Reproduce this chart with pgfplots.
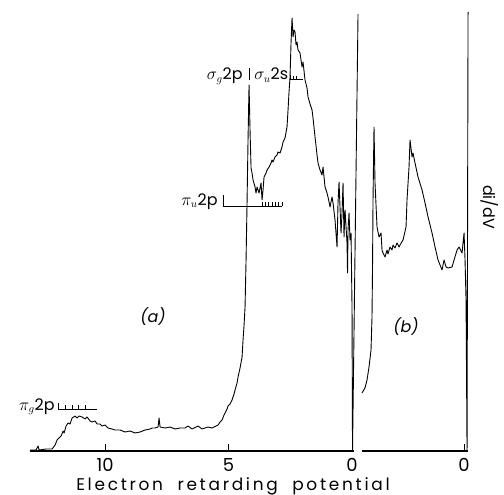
\documentclass[border=0pt]{standalone}
\usepackage{fontspec}
\setmainfont{Poppins}
\usepackage{pgfplots}
\pgfplotsset{compat=1.18}

\newcommand\ann{\fontsize{16}{16}\selectfont}

\pgfplotsset{
  panel/.style={
    scale only axis, anchor=south west, height=441bp,
    ymin=0, ymax=441, x dir=reverse,
    axis x line*=bottom, axis y line=none,
    axis line style={line width=1.1bp, -},
    tick align=inside, major tick length=7bp,
    tick style={line width=0.9bp, black},
    xticklabel style={font=\fontsize{18}{18}\selectfont, inner sep=0pt, anchor=north, yshift=-7bp},
    /pgf/number format/assume math mode=true,
    clip=false,
  },
  trace/.style={black, line width=0.9bp, line join=round},
}

\begin{document}
\begin{tikzpicture}
\useasboundingbox (0,0) rectangle (504bp,495bp);

% (a)
\begin{axis}[panel, at={(30bp,44bp)}, width=324bp,
    xmin=-0.08, xmax=13.04, xtick={0,5,10}]
  \addplot[trace] coordinates {
    (13.036,1) (12.794,1) (12.713,5) (12.672,1) (12.389,2) (12.146,2)
    (12.024,6) (11.943,11) (11.862,13) (11.781,15) (11.700,20) (11.660,18)
    (11.579,25) (11.498,28) (11.417,27) (11.336,33) (11.215,35) (11.134,33)
    (11.053,35) (10.931,34) (10.810,32) (10.729,34) (10.607,30) (10.526,29)
    (10.405,30) (10.324,27) (10.202,27) (10.121,25) (10.000,26) (9.879,23)
    (9.717,22) (9.595,21) (9.393,21) (9.190,19) (8.988,20) (8.785,18)
    (8.583,19) (8.381,21) (8.178,22) (8.097,23) (7.976,23) (7.854,24)
    (7.814,33) (7.773,24) (7.571,23) (7.368,24) (7.166,22) (6.964,23)
    (6.761,23) (6.640,25) (6.478,22) (6.316,24) (6.235,25) (6.073,22)
    (5.951,23) (5.830,24) (5.668,23) (5.506,25) (5.425,26) (5.344,29)
    (5.263,31) (5.182,36) (5.142,38) (5.061,42) (5.020,45) (4.939,47)
    (4.858,51) (4.777,57) (4.737,61) (4.656,68) (4.615,74) (4.534,83)
    (4.453,94) (4.413,111) (4.372,126) (4.332,144) (4.291,191) (4.251,248)
    (4.211,311) (4.170,366) (4.130,321) (4.089,283) (4.049,278) (4.008,271)
    (3.927,264) (3.887,258) (3.846,264) (3.765,258) (3.684,268) (3.644,251)
    (3.603,261) (3.563,274) (3.482,278) (3.441,281) (3.360,284) (3.279,288)
    (3.239,291) (3.198,289) (3.117,294) (3.036,296) (2.996,299) (2.915,298)
    (2.834,304) (2.794,309) (2.713,313) (2.632,324) (2.591,341) (2.551,359)
    (2.510,374) (2.470,408) (2.429,433) (2.389,414) (2.348,421) (2.308,419)
    (2.267,406) (2.227,409) (2.186,401) (2.105,398) (2.024,384) (1.984,389)
    (1.903,371) (1.822,363) (1.781,354) (1.700,347) (1.619,341) (1.579,333)
    (1.498,314) (1.457,305) (1.417,296) (1.377,288) (1.296,281) (1.215,276)
    (1.174,284) (1.093,264) (1.012,258) (0.972,254) (0.891,244) (0.810,254)
    (0.769,248) (0.688,231) (0.607,204) (0.567,248) (0.526,269) (0.445,218)
    (0.405,238) (0.364,268) (0.324,214) (0.283,241) (0.202,208) (0.182,178)
    (0.162,221) (0.121,238) (0.081,211) (0.040,218) (0.000,144) (-0.020,0)
    (-0.243,437)
  };
\end{axis}

% (b)
\begin{axis}[panel, at={(362bp,44bp)}, width=106bp,
    xmin=-0.16, xmax=4.13, xtick={0}]
  \addplot[trace] coordinates {
    (4.130,58) (4.008,63) (3.927,71) (3.846,84) (3.765,101) (3.725,134)
    (3.704,184) (3.684,251) (3.644,324) (3.603,268) (3.522,224) (3.441,214)
    (3.360,218) (3.320,201) (3.279,198) (3.198,194) (3.117,201) (3.077,197)
    (2.996,204) (2.915,201) (2.874,206) (2.794,203) (2.713,208) (2.632,204)
    (2.591,206) (2.470,211) (2.348,224) (2.308,251) (2.227,284) (2.186,311)
    (2.105,294) (2.065,298) (1.984,288) (1.862,274) (1.700,261) (1.579,248)
    (1.457,234) (1.296,218) (1.174,204) (1.053,191) (0.891,181) (0.810,191)
    (0.729,184) (0.648,183) (0.486,184) (0.405,191) (0.283,201) (0.202,204)
    (0.081,198) (0.000,218) (-0.040,191) (-0.081,151) (-0.121,0) (-0.162,439)
  };
\end{axis}

\begin{scope}[x=1bp, y=1bp, line width=0.8bp]
  % sigma_g 2p | sigma_u 2s
  \node[anchor=base east, inner sep=0pt] at (243,415) {\ann$\sigma_g$2p};
  \draw (249,427) -- (249,415);
  \node[anchor=base west, inner sep=0pt] at (254,415) {\ann$\sigma_u$2s};
  \draw (290,420) -- (290,416) -- (303,416);
  \draw (293,416) -- (293,419) (296,416) -- (296,419);
  % pi_u 2p
  \node[anchor=base east, inner sep=0pt] at (218,290) {\ann$\pi_u$2p};
  \draw (223,300) -- (223,289) -- (282,289);
  \foreach \t in {262,265.3,268.7,272,275.3,278.7,282}
    \draw (\t,289) -- (\t,292.5);
  % pi_g 2p
  \node[anchor=base east, inner sep=0pt] at (55,85) {\ann$\pi_g$2p};
  \draw (58,92) -- (58,86) -- (97,86);
  \foreach \t in {65,72,78,85}
    \draw (\t,86) -- (\t,89.5);
  % panel labels
  \node at (153,178) {\ann\itshape(a)};
  \node at (406,168) {\ann\itshape(b)};
  % axis label
  \node[anchor=base, inner sep=0pt] at (233,5) {\fontsize{17}{17}\selectfont\addfontfeature{LetterSpace=16}Electron\ \ retarding\ \ potential};
  \node[rotate=-90] at (490,288) {\ann di/dV};
\end{scope}
\end{tikzpicture}
\end{document}
